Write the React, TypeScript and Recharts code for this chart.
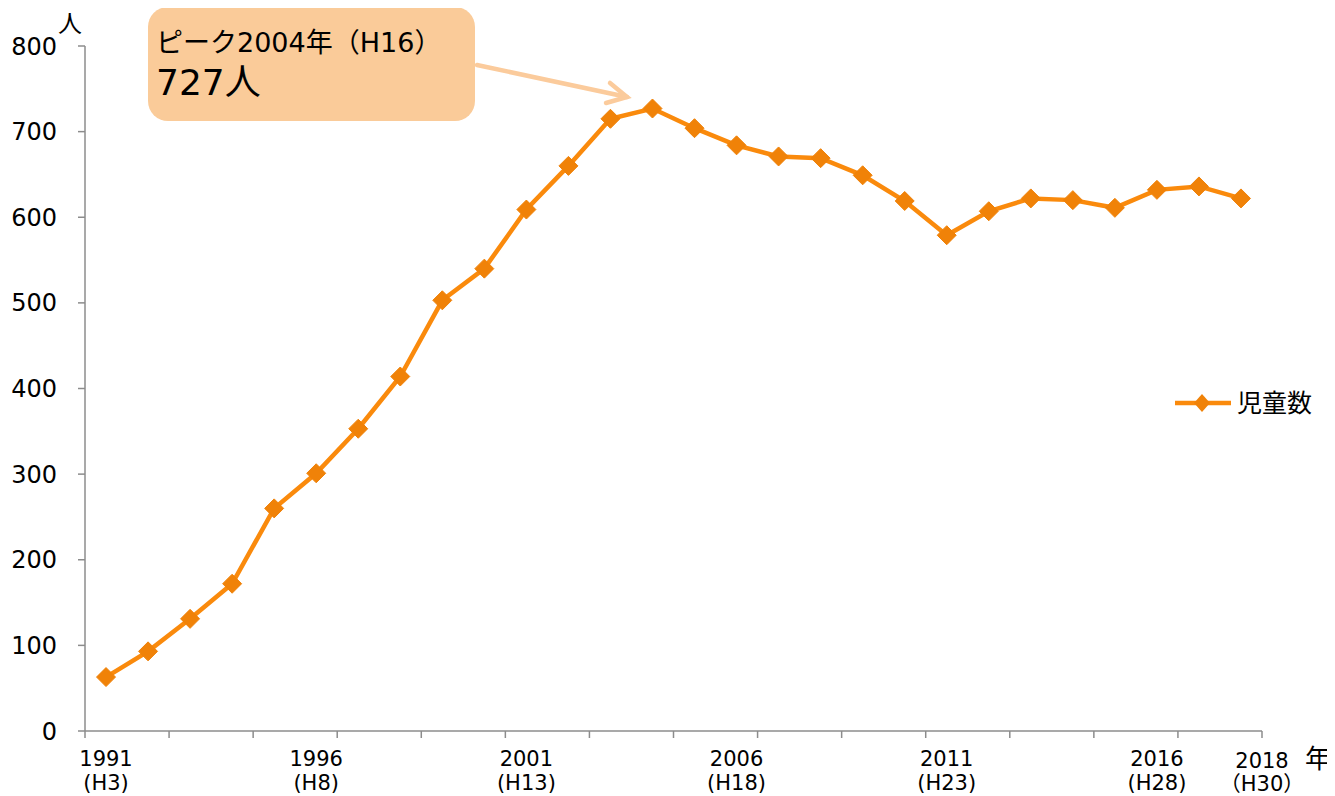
import React from 'react';
import { LineChart, Line, XAxis, YAxis, Legend } from 'recharts';

const years = [1991, 1992, 1993, 1994, 1995, 1996, 1997, 1998, 1999, 2000, 2001, 2002, 2003, 2004, 2005, 2006, 2007, 2008, 2009, 2010, 2011, 2012, 2013, 2014, 2015, 2016, 2017, 2018];
const heisei = ['H3', 'H4', 'H5', 'H6', 'H7', 'H8', 'H9', 'H10', 'H11', 'H12', 'H13', 'H14', 'H15', 'H16', 'H17', 'H18', 'H19', 'H20', 'H21', 'H22', 'H23', 'H24', 'H25', 'H26', 'H27', 'H28', 'H29', 'H30'];
const childCounts = [63, 93, 131, 172, 260, 301, 353, 414, 503, 540, 609, 660, 715, 727, 704, 684, 671, 669, 649, 619, 579, 607, 622, 620, 611, 632, 636, 622];
const yTicks = [0, 100, 200, 300, 400, 500, 600, 700, 800];
const labeledYears = [1991, 1996, 2001, 2006, 2011, 2016];
const seriesName = '児童数';
const peakLabelHead = 'ピーク2004年';
const peakLabelEra = 'H16';
const peakValueLabel = '727人';
const yUnit = '人';
const xUnit = '年';

const data = years.map((y, i) => ({ idx: i, year: y, era: heisei[i], value: childCounts[i] }));

const n = years.length;
const boundaryTicks: number[] = [];
for (let b = -0.5; b <= n - 0.5 + 1e-9; b += 2) boundaryTicks.push(b);
const labelTicks = labeledYears.map((y) => years.indexOf(y));
const xTicks = [...boundaryTicks, ...labelTicks].sort((a, b) => a - b);

const FONT = "'DejaVu Sans', 'Noto Sans CJK JP', sans-serif";
const CJK = "'Noto Sans CJK JP', sans-serif";
const LINE_COLOR = '#FA8A0C';
const MARKER_COLOR = '#F08208';
const AXIS_COLOR = '#8C8C8C';

const XTick = (props: any) => {
  const { x, y, payload } = props;
  const v = payload.value as number;
  const isBoundary = Math.abs(v - Math.round(v)) > 0.1;
  if (isBoundary) {
    const last = Math.abs(v - (n - 0.5)) < 0.01;
    return (
      <g>
        <line x1={x} y1={y} x2={x} y2={y + 7} stroke={AXIS_COLOR} strokeWidth={1.5} />
        {last && (
          <g>
            <text x={x} y={y + 37} textAnchor="middle" fontSize={21} fontFamily={FONT} fill="#000">{years[n - 1]}</text>
            <text x={x} y={y + 60} textAnchor="middle" fontSize={21} fontFamily={FONT} fill="#000">
              <tspan fontFamily={CJK}>（</tspan>
              <tspan>{heisei[n - 1]}</tspan>
              <tspan fontFamily={CJK}>）</tspan>
            </text>
          </g>
        )}
      </g>
    );
  }
  const i = Math.round(v);
  return (
    <g>
      <text x={x} y={y + 35} textAnchor="middle" fontSize={21} fontFamily={FONT} fill="#000">{years[i]}</text>
      <text x={x} y={y + 59} textAnchor="middle" fontSize={21} fontFamily={FONT} fill="#000">{'(' + heisei[i] + ')'}</text>
    </g>
  );
};

const Diamond = (props: any) => {
  const { cx, cy } = props;
  if (cx == null || cy == null) return null;
  const r = 9.5;
  return <polygon points={`${cx},${cy - r} ${cx + r},${cy} ${cx},${cy + r} ${cx - r},${cy}`} fill={MARKER_COLOR} stroke={MARKER_COLOR} strokeWidth={1} />;
};

const LegendContent = (props: any) => {
  const item = (props.payload && props.payload[0]) || { value: seriesName, color: LINE_COLOR };
  return (
    <svg width={170} height={34} style={{ display: 'block' }}>
      <line x1={0} y1={17} x2={56} y2={17} stroke={LINE_COLOR} strokeWidth={4.5} />
      <polygon points="27,8 35,17 27,26 19,17" fill={MARKER_COLOR} />
      <text x={62} y={26} fontSize={25} fontFamily={FONT} fill="#000">{item.value}</text>
    </svg>
  );
};

export default function App() {
  return (
    <div style={{ position: 'relative', width: 1327, height: 788 }}>
      <LineChart width={1327} height={788} data={data} margin={{ top: 38, right: 73, bottom: 5, left: 0 }}>
        <XAxis
          dataKey="idx"
          type="number"
          domain={[-0.5, n - 0.5]}
          ticks={xTicks}
          interval={0}
          tickSize={0}
          tickMargin={0}
          tickLine={false}
          tick={<XTick />}
          height={60}
          axisLine={{ stroke: AXIS_COLOR, strokeWidth: 1.5 }}
          allowDataOverflow
        />
        <YAxis
          type="number"
          domain={[0, 800]}
          ticks={yTicks}
          interval={0}
          width={77}
          tickSize={7}
          tickMargin={21}
          tickLine={{ stroke: AXIS_COLOR, strokeWidth: 1.5 }}
          axisLine={{ stroke: AXIS_COLOR, strokeWidth: 1.5 }}
          tick={{ fontSize: 24, fill: '#000', fontFamily: FONT }}
        />
        <Legend
          layout="horizontal"
          verticalAlign="middle"
          align="center"
          content={<LegendContent />}
          wrapperStyle={{ position: 'absolute', left: 1167, top: 378, width: 170, height: 34 }}
        />
        <Line
          type="linear"
          dataKey="value"
          name={seriesName}
          stroke={LINE_COLOR}
          strokeWidth={4.5}
          dot={<Diamond />}
          activeDot={false}
          isAnimationActive={false}
        />
      </LineChart>
      <svg width={1327} height={788} style={{ position: 'absolute', left: 0, top: 0, pointerEvents: 'none' }}>
        <text x={62} y={24} textAnchor="middle" fontSize={24} fontFamily={FONT} fill="#000">{yUnit}</text>
        <text x={1297} y={760} fontSize={26} fontFamily={FONT} fill="#000">{xUnit}</text>
        <rect x={140} y={-1} width={327} height={114} rx={20} ry={20} fill="#FACB99" />
        <text x={148} y={44} fontSize={27} fontFamily={FONT} fill="#000">
          <tspan>{peakLabelHead}</tspan>
          <tspan fontFamily={CJK}>（</tspan>
          <tspan>{peakLabelEra}</tspan>
          <tspan fontFamily={CJK}>）</tspan>
        </text>
        <text x={148} y={87} fontSize={36} fontFamily={FONT} fill="#000">{peakValueLabel}</text>
        <g stroke="#FBCB9C" strokeWidth={4.5} fill="none" strokeLinecap="round">
          <line x1={469} y1={57} x2={619} y2={89} />
          <polyline points="602,75 619,89 598,95" />
        </g>
      </svg>
    </div>
  );
}
